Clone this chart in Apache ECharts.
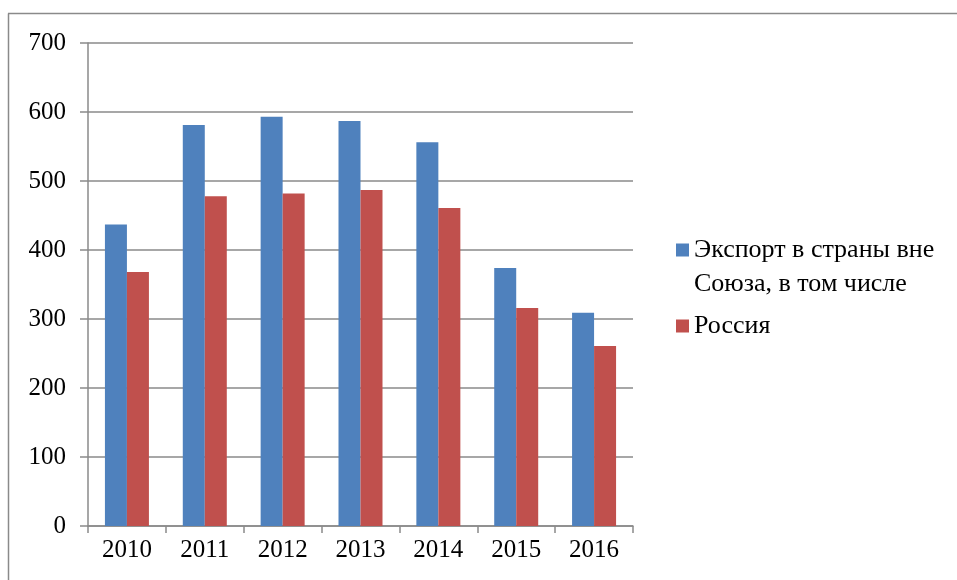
<!DOCTYPE html>
<html><head><meta charset="utf-8">
<script src="https://cdn.jsdelivr.net/npm/echarts@6/dist/echarts.min.js"></script>
<style>html,body{margin:0;padding:0;background:#fff}#c{width:957px;height:580px}</style>
</head><body><div id="c"></div>
<script>
const categories = ['2010','2011','2012','2013','2014','2015','2016'];
const exportNames = ['Экспорт в страны вне\nСоюза, в том числе', 'Россия'];
const exportTotal = [437, 581, 593, 587, 556, 374, 309];
const russia = [368, 478, 482, 487, 461, 316, 261];
const yTicks = { min: 0, max: 700, interval: 100 };

const font = 'Liberation Serif';
const chart = echarts.init(document.getElementById('c'), null, {renderer: 'canvas'});
chart.setOption({
  animation: false,
  backgroundColor: '#fff',
  textStyle: {fontFamily: font},
  graphic: [
    {type: 'line', shape: {x1: 8, y1: 13.5, x2: 957, y2: 13.5}, style: {stroke: '#8a8a8a', lineWidth: 1.5}},
    {type: 'line', shape: {x1: 8.5, y1: 13.5, x2: 8.5, y2: 580}, style: {stroke: '#8a8a8a', lineWidth: 1.5}}
  ],
  grid: {left: 88, right: 324, top: 43, bottom: 54, containLabel: false},
  legend: [
    {data: [exportNames[0]], left: 676, top: 199, padding: 0, orient: 'vertical',
     icon: 'rect', itemWidth: 13, itemHeight: 13, itemGap: 0, selectedMode: false,
     formatter: function (n) { return ' \n' + n; },
     textStyle: {fontFamily: font, fontSize: 26, color: '#000', lineHeight: 34}},
    {data: [exportNames[1]], left: 676, top: 309, padding: 0, orient: 'vertical',
     icon: 'rect', itemWidth: 13, itemHeight: 13, selectedMode: false,
     textStyle: {fontFamily: font, fontSize: 26, color: '#000', lineHeight: 34}}
  ],
  xAxis: {
    type: 'category', data: categories,
    axisLine: {lineStyle: {color: '#8a8a8a', width: 1.5}},
    axisTick: {show: true, length: 7, alignWithLabel: false, lineStyle: {color: '#8a8a8a', width: 1.5}},
    axisLabel: {fontFamily: font, fontSize: 25, color: '#000', margin: 12}
  },
  yAxis: {
    type: 'value', min: yTicks.min, max: yTicks.max, interval: yTicks.interval,
    axisLine: {show: true, lineStyle: {color: '#8a8a8a', width: 1.5}},
    axisTick: {show: true, length: 8, lineStyle: {color: '#8a8a8a', width: 1.5}},
    splitLine: {lineStyle: {color: '#8a8a8a', width: 1.5}},
    axisLabel: {fontFamily: font, fontSize: 25, color: '#000', margin: 22}
  },
  series: [
    {name: exportNames[0], type: 'bar', data: exportTotal, barWidth: 22, barGap: '0%',
     itemStyle: {color: '#4F81BD'}},
    {name: exportNames[1], type: 'bar', data: russia, barWidth: 22, barGap: '0%',
     itemStyle: {color: '#C0504D'}}
  ]
});
</script></body></html>
